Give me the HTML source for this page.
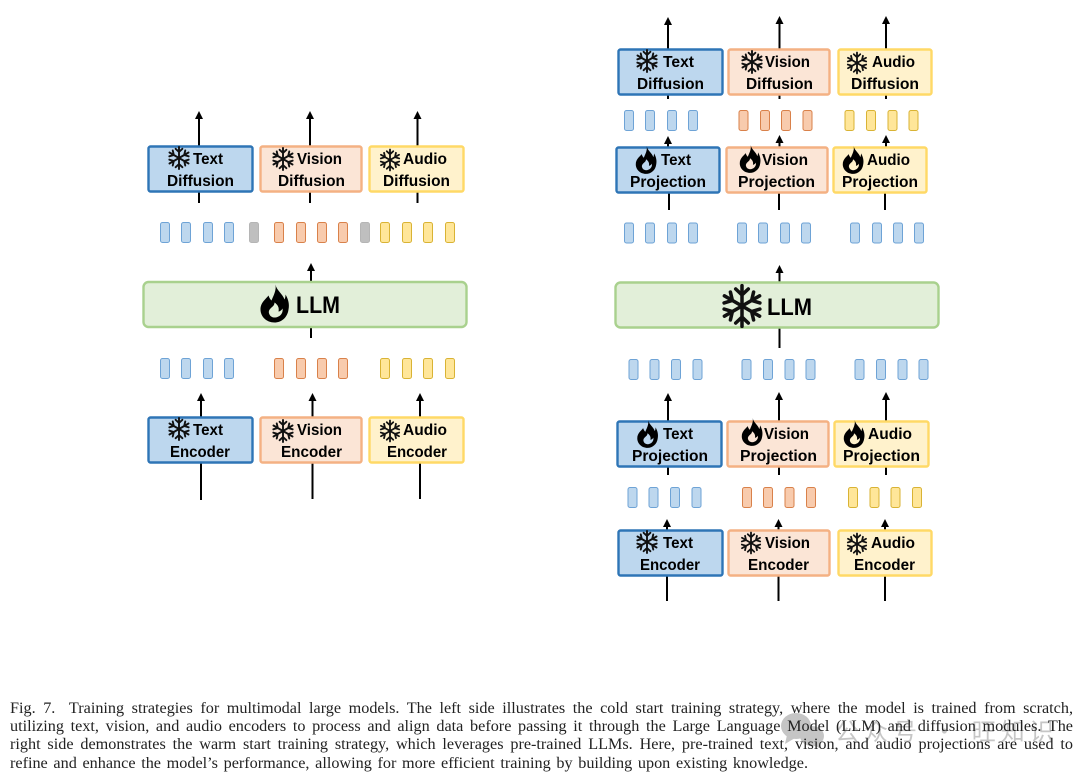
<!DOCTYPE html>
<html><head><meta charset="utf-8"><style>
html,body{margin:0;padding:0;background:#fff;width:1080px;height:776px;overflow:hidden}
svg.d{position:absolute;left:0;top:0;filter:blur(.35px)}
.b text{font-family:"Liberation Sans",sans-serif;font-weight:700;font-size:15.5px;fill:#000}
.bl{fill:#bdd7ee;stroke:#2e75b6;stroke-width:2.4}
.or{fill:#fbe5d6;stroke:#f4b183;stroke-width:2.4}
.ye{fill:#fff2cc;stroke:#ffd966;stroke-width:2.4}
.ll{fill:#e2efd9;stroke:#a9d18e;stroke-width:2.4}
.tb rect{fill:#bdd7ee;stroke:#6ea3d6;stroke-width:1;width:9px;height:20px;rx:2px}
.to rect{fill:#f8cbad;stroke:#d9814a;stroke-width:1;width:9px;height:20px;rx:2px}
.ty rect{fill:#ffe699;stroke:#d9b334;stroke-width:1;width:9px;height:20px;rx:2px}
.tg rect{fill:#bfbfbf;stroke:#b5b5b5;stroke-width:1;width:9px;height:20px;rx:2px}
.ar path{stroke:#000;stroke-width:2;fill:none}
.cap{position:absolute;left:10px;font-family:"Liberation Serif",serif;font-size:16.2px;line-height:18px;color:#222;white-space:nowrap;text-align:justify;text-align-last:justify;filter:blur(.3px)}
.wm{position:absolute;left:835px;top:715px;font-family:"Noto Sans CJK SC",sans-serif;font-size:24px;line-height:30px;color:rgba(120,120,120,.42);white-space:nowrap;letter-spacing:5px}
</style></head><body>
<svg class="d" width="1080" height="776" viewBox="0 0 1080 776" xmlns="http://www.w3.org/2000/svg">
<defs>
<g id="h"><polygon points="0,0 4,8 -4,8" fill="#000"/></g>
<g id="s" fill="none" stroke="#111" stroke-width="1.9" stroke-linecap="round">
<g id="arm"><path d="M0 0V-11M-3.4 -9.2L0 -6L3.4 -9.2"/></g>
<use href="#arm" transform="rotate(60)"/><use href="#arm" transform="rotate(120)"/><use href="#arm" transform="rotate(180)"/><use href="#arm" transform="rotate(240)"/><use href="#arm" transform="rotate(300)"/>
</g>
<path id="f" fill="#000" fill-rule="evenodd" d="M1 -19C2 -13 8 -10 10 -4C11 -6 11 -8 11 -9C14 -4 15 1 14 6C13 14 7 19 0 19C-8 19 -14 13 -14 6C-14 -1 -9 -4 -6 -8C-5 -5 -4 -4 -3 -3C-1 -8 2 -13 1 -19ZM0 14C5 14 9 10 8 5C7 7 5 8 4 8C5 4 3 1 0 -1C0 2 -2 3 -4 5C-6 7 -6 9 -5 11C-4 13 -2 14 0 14Z"/>
</defs>

<!-- LEFT arrows -->
<g class="ar">
<path d="M199 146V116M310 146V116M417.500 146V116M199 191V203M310 191V203M417.500 191V203M311 282V268M311 327V338M201 417V398M312.500 417V398M420 417V398M201 463V500M312.500 463V499M420 463V499"/>
</g>
<use href="#h" x="199" y="111"/><use href="#h" x="310" y="111"/><use href="#h" x="417.500" y="111"/><use href="#h" x="311" y="263"/><use href="#h" x="201" y="393"/><use href="#h" x="312.500" y="393"/><use href="#h" x="420" y="393"/>

<!-- RIGHT arrows -->
<g class="ar">
<path d="M668 49V22M779.500 49V22M886 49V22M668 95V99M779.500 95V99M886 95V99M668 147V141M779.500 147V141M886 147V141M669 193V210M779 193V210M885 193V210M779.500 282V270M779.500 328V348M668 421V398M779 421V398M886 421V398M668 467V475M779 467V475M886 467V475M667 530V524M778.500 530V524M885 530V524M667 576V601M778.500 576V601M885 576V601"/>
</g>
<use href="#h" x="668" y="17"/><use href="#h" x="779.500" y="16"/><use href="#h" x="886" y="16"/><use href="#h" x="668" y="136"/><use href="#h" x="779.500" y="135"/><use href="#h" x="886" y="135"/><use href="#h" x="779.500" y="265"/><use href="#h" x="668" y="393"/><use href="#h" x="779" y="392"/><use href="#h" x="886" y="392"/><use href="#h" x="667" y="519"/><use href="#h" x="778.500" y="519"/><use href="#h" x="885" y="519"/>

<!-- boxes -->
<g>
<rect class="bl" x="148.500" y="146.500" width="104" height="45" rx="2"/>
<rect class="or" x="260.500" y="146.500" width="101" height="45" rx="2"/>
<rect class="ye" x="369.500" y="146.500" width="94" height="45" rx="2"/>
<rect class="bl" x="148.500" y="417.500" width="104" height="45" rx="2"/>
<rect class="or" x="260.500" y="417.500" width="101" height="45" rx="2"/>
<rect class="ye" x="369.500" y="417.500" width="94" height="45" rx="2"/>
<rect class="ll" x="143.500" y="282" width="323" height="45" rx="5"/>
<rect class="bl" x="618.500" y="49.500" width="104" height="45" rx="2"/>
<rect class="or" x="728.500" y="49.500" width="101" height="45" rx="2"/>
<rect class="ye" x="838.500" y="49.500" width="93" height="45" rx="2"/>
<rect class="bl" x="616.500" y="147.500" width="103" height="45" rx="2"/>
<rect class="or" x="726.500" y="147.500" width="101" height="45" rx="2"/>
<rect class="ye" x="833.500" y="147.500" width="93" height="45" rx="2"/>
<rect class="ll" x="615.500" y="282.500" width="323" height="45" rx="5"/>
<rect class="bl" x="617.500" y="421.500" width="104" height="45" rx="2"/>
<rect class="or" x="727.500" y="421.500" width="101" height="45" rx="2"/>
<rect class="ye" x="834.500" y="421.500" width="94" height="45" rx="2"/>
<rect class="bl" x="618.500" y="530.500" width="104" height="45" rx="2"/>
<rect class="or" x="728.500" y="530.500" width="101" height="45" rx="2"/>
<rect class="ye" x="838.500" y="530.500" width="93" height="45" rx="2"/>
</g>

<!-- tokens left -->
<g class="tb"><rect x="160.500" y="222.500"/><rect x="181.500" y="222.500"/><rect x="203.500" y="222.500"/><rect x="224.500" y="222.500"/><rect x="160.500" y="358.500"/><rect x="181.500" y="358.500"/><rect x="203.500" y="358.500"/><rect x="224.500" y="358.500"/></g>
<g class="tg"><rect x="249.500" y="222.500"/><rect x="360.500" y="222.500"/></g>
<g class="to"><rect x="274.500" y="222.500"/><rect x="296.500" y="222.500"/><rect x="317.500" y="222.500"/><rect x="338.500" y="222.500"/><rect x="274.500" y="358.500"/><rect x="296.500" y="358.500"/><rect x="317.500" y="358.500"/><rect x="338.500" y="358.500"/></g>
<g class="ty"><rect x="380.500" y="222.500"/><rect x="402.500" y="222.500"/><rect x="423.500" y="222.500"/><rect x="445.500" y="222.500"/><rect x="380.500" y="358.500"/><rect x="402.500" y="358.500"/><rect x="423.500" y="358.500"/><rect x="445.500" y="358.500"/></g>

<!-- tokens right -->
<g class="tb">
<rect x="624.500" y="110.500"/><rect x="645.500" y="110.500"/><rect x="667.500" y="110.500"/><rect x="688.500" y="110.500"/>
<rect x="624.500" y="223"/><rect x="645.500" y="223"/><rect x="667.500" y="223"/><rect x="688.500" y="223"/>
<rect x="737.500" y="223"/><rect x="758.500" y="223"/><rect x="780.500" y="223"/><rect x="801.500" y="223"/>
<rect x="850.500" y="223"/><rect x="872.500" y="223"/><rect x="893.500" y="223"/><rect x="914.500" y="223"/>
<rect x="629" y="359.500"/><rect x="650" y="359.500"/><rect x="671.500" y="359.500"/><rect x="693" y="359.500"/>
<rect x="742" y="359.500"/><rect x="763.500" y="359.500"/><rect x="785" y="359.500"/><rect x="806" y="359.500"/>
<rect x="855" y="359.500"/><rect x="876.500" y="359.500"/><rect x="898" y="359.500"/><rect x="919" y="359.500"/>
<rect x="628" y="487.500"/><rect x="649" y="487.500"/><rect x="670.500" y="487.500"/><rect x="692" y="487.500"/>
</g>
<g class="to">
<rect x="739" y="110.500"/><rect x="760.500" y="110.500"/><rect x="781.500" y="110.500"/><rect x="803" y="110.500"/>
<rect x="742.500" y="487.500"/><rect x="763.500" y="487.500"/><rect x="785" y="487.500"/><rect x="806.500" y="487.500"/>
</g>
<g class="ty">
<rect x="845" y="110.500"/><rect x="866.500" y="110.500"/><rect x="888" y="110.500"/><rect x="909" y="110.500"/>
<rect x="848.500" y="487.500"/><rect x="870" y="487.500"/><rect x="891" y="487.500"/><rect x="912.500" y="487.500"/>
</g>

<!-- icons -->
<use href="#s" transform="translate(179,158) scale(1)"/>
<use href="#s" transform="translate(283,159) scale(1)"/>
<use href="#s" transform="translate(390,160) scale(.95)"/>
<use href="#s" transform="translate(179,429) scale(1)"/>
<use href="#s" transform="translate(283,431) scale(1)"/>
<use href="#s" transform="translate(390,431) scale(.95)"/>
<use href="#f" transform="translate(274.500,303.500)"/>
<use href="#s" transform="translate(647,61) scale(1)"/>
<use href="#s" transform="translate(752,62) scale(1)"/>
<use href="#s" transform="translate(857,63) scale(.95)"/>
<use href="#f" transform="translate(646,160) scale(.73)"/>
<use href="#f" transform="translate(750,159) scale(.73)"/>
<use href="#f" transform="translate(853,160) scale(.73)"/>
<use href="#s" transform="translate(742,306) scale(1.85)"/>
<use href="#f" transform="translate(647.500,434) scale(.73)"/>
<use href="#f" transform="translate(752,432) scale(.73)"/>
<use href="#f" transform="translate(854,434) scale(.73)"/>
<use href="#s" transform="translate(647,542) scale(1)"/>
<use href="#s" transform="translate(751,543) scale(.95)"/>
<use href="#s" transform="translate(857,544) scale(.95)"/>

<!-- labels -->
<g class="b">
<text x="193" y="164" textLength="30" lengthAdjust="spacingAndGlyphs">Text</text>
<text x="167" y="186" textLength="67" lengthAdjust="spacingAndGlyphs">Diffusion</text>
<text x="297" y="164" textLength="45" lengthAdjust="spacingAndGlyphs">Vision</text>
<text x="278" y="186" textLength="67" lengthAdjust="spacingAndGlyphs">Diffusion</text>
<text x="403" y="164" textLength="44" lengthAdjust="spacingAndGlyphs">Audio</text>
<text x="383" y="186" textLength="67" lengthAdjust="spacingAndGlyphs">Diffusion</text>
<text x="193" y="435" textLength="30" lengthAdjust="spacingAndGlyphs">Text</text>
<text x="170" y="457" textLength="60" lengthAdjust="spacingAndGlyphs">Encoder</text>
<text x="297" y="435" textLength="45" lengthAdjust="spacingAndGlyphs">Vision</text>
<text x="281" y="457" textLength="61" lengthAdjust="spacingAndGlyphs">Encoder</text>
<text x="403" y="435" textLength="44" lengthAdjust="spacingAndGlyphs">Audio</text>
<text x="387" y="457" textLength="60" lengthAdjust="spacingAndGlyphs">Encoder</text>
<text x="296" y="313" textLength="44" lengthAdjust="spacingAndGlyphs" style="font-size:24px">LLM</text>
<text x="663" y="67" textLength="31" lengthAdjust="spacingAndGlyphs">Text</text>
<text x="637" y="89" textLength="67" lengthAdjust="spacingAndGlyphs">Diffusion</text>
<text x="765" y="67" textLength="45" lengthAdjust="spacingAndGlyphs">Vision</text>
<text x="746" y="89" textLength="67" lengthAdjust="spacingAndGlyphs">Diffusion</text>
<text x="872" y="67" textLength="43" lengthAdjust="spacingAndGlyphs">Audio</text>
<text x="851" y="89" textLength="68" lengthAdjust="spacingAndGlyphs">Diffusion</text>
<text x="661" y="165" textLength="30" lengthAdjust="spacingAndGlyphs">Text</text>
<text x="630" y="187" textLength="76" lengthAdjust="spacingAndGlyphs">Projection</text>
<text x="762" y="165" textLength="46" lengthAdjust="spacingAndGlyphs">Vision</text>
<text x="738" y="187" textLength="77" lengthAdjust="spacingAndGlyphs">Projection</text>
<text x="867" y="165" textLength="43" lengthAdjust="spacingAndGlyphs">Audio</text>
<text x="842" y="187" textLength="76" lengthAdjust="spacingAndGlyphs">Projection</text>
<text x="767" y="315" textLength="45" lengthAdjust="spacingAndGlyphs" style="font-size:24px">LLM</text>
<text x="663" y="439" textLength="30" lengthAdjust="spacingAndGlyphs">Text</text>
<text x="632" y="461" textLength="76" lengthAdjust="spacingAndGlyphs">Projection</text>
<text x="764" y="439" textLength="45" lengthAdjust="spacingAndGlyphs">Vision</text>
<text x="740" y="461" textLength="77" lengthAdjust="spacingAndGlyphs">Projection</text>
<text x="868" y="439" textLength="44" lengthAdjust="spacingAndGlyphs">Audio</text>
<text x="843" y="461" textLength="77" lengthAdjust="spacingAndGlyphs">Projection</text>
<text x="663" y="548" textLength="30" lengthAdjust="spacingAndGlyphs">Text</text>
<text x="640" y="570" textLength="60" lengthAdjust="spacingAndGlyphs">Encoder</text>
<text x="765" y="548" textLength="45" lengthAdjust="spacingAndGlyphs">Vision</text>
<text x="748" y="570" textLength="61" lengthAdjust="spacingAndGlyphs">Encoder</text>
<text x="871" y="548" textLength="44" lengthAdjust="spacingAndGlyphs">Audio</text>
<text x="854" y="570" textLength="61" lengthAdjust="spacingAndGlyphs">Encoder</text>
</g>

<!-- watermark icon -->
<g fill="#8c8c8c" opacity=".5">
<ellipse cx="796" cy="726" rx="15" ry="13"/>
<polygon points="787,735 785,744 795,738"/>
<ellipse cx="812" cy="736" rx="12" ry="10"/>
<polygon points="818,743 822,749 812,745"/>
</g>
</svg>

<div class="wm">公众号 · 旺知识</div>

<div class="cap" style="top:699px;width:1063px">Fig. 7. <span style="display:inline-block;width:6px"></span>Training strategies for multimodal large models. The left side illustrates the cold start training strategy, where the model is trained from scratch,</div>
<div class="cap" style="top:717px;width:1063px">utilizing text, vision, and audio encoders to process and align data before passing it through the Large Language Model (LLM) and diffusion modules. The</div>
<div class="cap" style="top:735px;width:1063px">right side demonstrates the warm start training strategy, which leverages pre-trained LLMs. Here, pre-trained text, vision, and audio projections are used to</div>
<div class="cap" style="top:754px;width:798px">refine and enhance the model’s performance, allowing for more efficient training by building upon existing knowledge.</div>
</body></html>
